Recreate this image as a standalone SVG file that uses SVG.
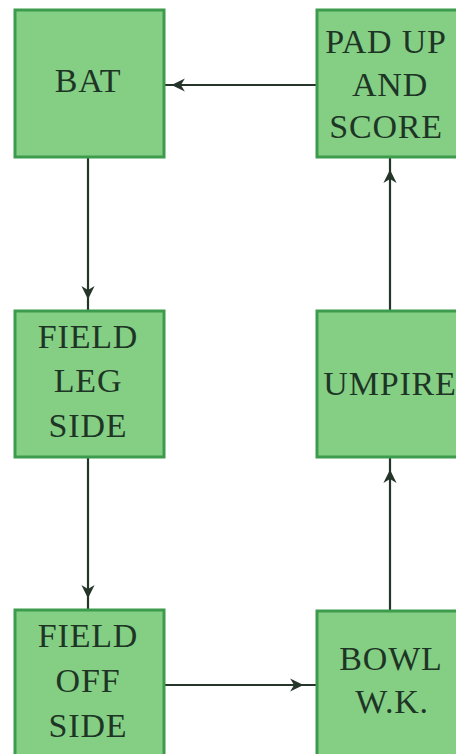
<svg xmlns="http://www.w3.org/2000/svg" width="456" height="754" viewBox="0 0 456 754">
  <style>
    .box { fill: #84cf84; stroke: #3d9b4d; stroke-width: 3; }
    .lbl { font-size: 34px; letter-spacing: 0.8px; fill: #1e3526; text-anchor: middle; }
    .link { fill: none; stroke: #25352a; stroke-width: 2.2; marker-mid: url(#head); }
  </style>
  <defs>
    <marker id="head" viewBox="0 0 10 10" refX="9" refY="5" markerWidth="6" markerHeight="6" markerUnits="strokeWidth" orient="auto">
      <path d="M0,0 L10,5 L0,10 L3,5 Z" fill="#25352a"/>
    </marker>
  </defs>
  <rect width="456" height="754" fill="#ffffff"/>

  <g id="connectors">
    <!-- pad up -> bat -->
    <path class="link" d="M316,85 L173,85 L164,85"/>
    <!-- bat -> field leg side -->
    <path class="link" d="M88,158 L88,298 L88,310"/>
    <!-- field leg side -> field off side -->
    <path class="link" d="M88,458 L88,597 L88,609"/>
    <!-- field off side -> bowl -->
    <path class="link" d="M164,685 L302,685 L316,685"/>
    <!-- bowl -> umpire -->
    <path class="link" d="M390,610 L390,471 L390,458"/>
    <!-- umpire -> pad up -->
    <path class="link" d="M390,310 L390,171 L390,158"/>
  </g>

  <g font-family="Liberation Serif, DejaVu Serif, Noto Serif, Times New Roman, serif">
    <g id="bat">
      <rect class="box" x="15" y="10" width="149" height="147"/>
      <text class="lbl" x="88" y="92">BAT</text>
    </g>

    <g id="pad-up-and-score">
      <rect class="box" x="317" y="10" width="150" height="147"/>
      <text class="lbl" x="386" y="53">PAD UP</text>
      <text class="lbl" x="390" y="96">AND</text>
      <text class="lbl" x="386" y="138">SCORE</text>
    </g>

    <g id="field-leg-side">
      <rect class="box" x="15" y="311" width="149" height="146"/>
      <text class="lbl" x="88" y="348">FIELD</text>
      <text class="lbl" x="88" y="392">LEG</text>
      <text class="lbl" x="88" y="437">SIDE</text>
    </g>

    <g id="umpire">
      <rect class="box" x="317" y="311" width="150" height="146"/>
      <text class="lbl" x="390" y="395">UMPIRE</text>
    </g>

    <g id="field-off-side">
      <rect class="box" x="15" y="610" width="149" height="160"/>
      <text class="lbl" x="88" y="647">FIELD</text>
      <text class="lbl" x="88" y="692">OFF</text>
      <text class="lbl" x="88" y="737">SIDE</text>
    </g>

    <g id="bowl-wk">
      <rect class="box" x="317" y="611" width="150" height="160"/>
      <text class="lbl" x="391" y="670">BOWL</text>
      <text class="lbl" x="392" y="713">W.K.</text>
    </g>
  </g>
</svg>
